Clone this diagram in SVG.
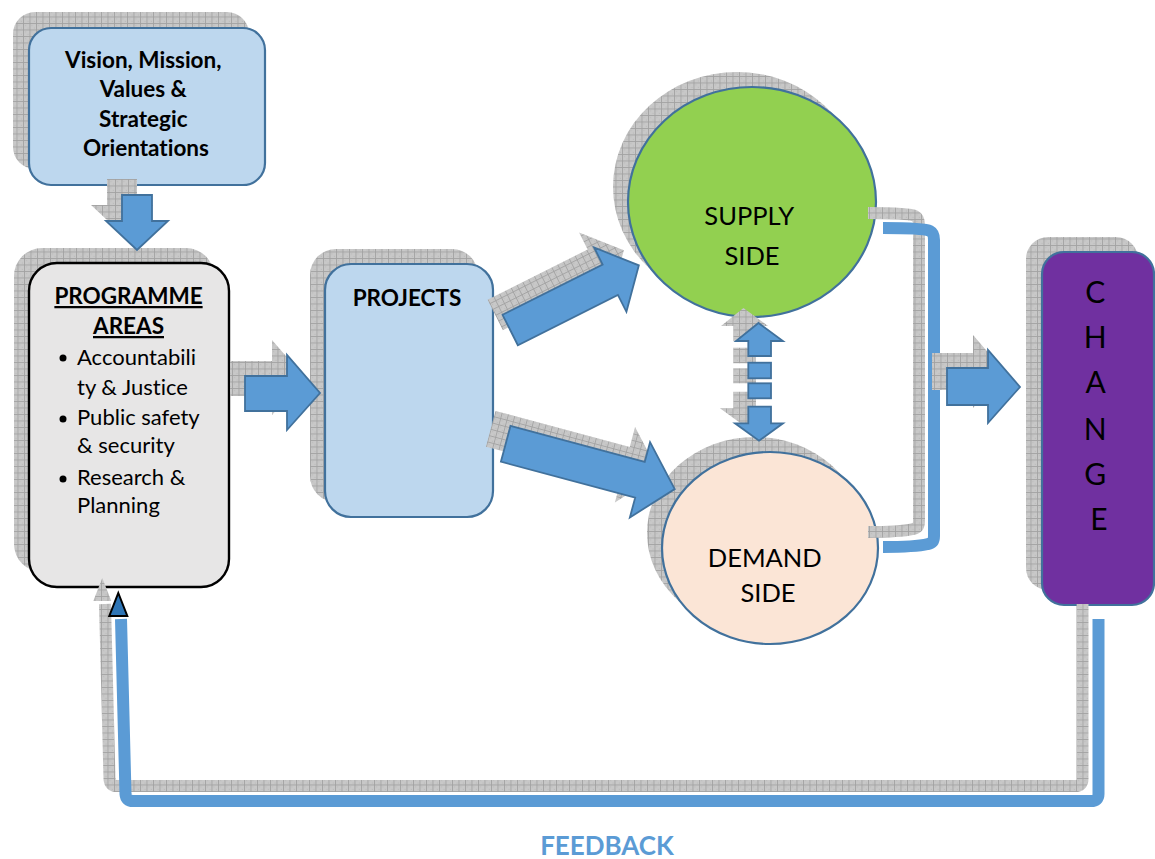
<svg xmlns="http://www.w3.org/2000/svg" xmlns:xlink="http://www.w3.org/1999/xlink" width="1155" height="859" viewBox="0 0 1155 859">
  <style>
    .shd { fill: url(#hatch); stroke: none; }
    .shd-line { fill: none; stroke: url(#hatch); }
    .box-blue { fill: #bdd7ee; stroke: #41719c; stroke-width: 2.2; }
    .box-grey { fill: #e7e6e6; stroke: #000; stroke-width: 2.4; }
    .ell-supply { fill: #92d050; stroke: #41719c; stroke-width: 2.2; }
    .ell-demand { fill: #fbe5d6; stroke: #41719c; stroke-width: 2.2; }
    .box-change { fill: #7030a0; stroke: #41719c; stroke-width: 2.2; }
    .arrow { fill: #5b9bd5; stroke: #41719c; stroke-width: 1.8; stroke-linejoin: miter; }
    .line { fill: none; stroke: #5b9bd5; stroke-linejoin: round; }
    .txt { font-family: Lato, "Liberation Sans", sans-serif; fill: #000; font-variant-ligatures: none; }
    .bold { font-weight: bold; }
  </style>
  <defs>
    <pattern id="hatch" width="6.5" height="6.5" patternUnits="userSpaceOnUse">
      <rect width="6.5" height="6.5" fill="#c8c8c8"/>
      <rect x="2" y="2" width="1" height="1" fill="#b8b8b8"/>
      <rect x="4.5" y="4.5" width="1" height="1" fill="#b8b8b8"/>
      <path d="M0,0.5H6.5M0.5,0V6.5" stroke="#a2a2a2" stroke-width="0.9"/>
    </pattern>

    <!-- node outlines -->
    <rect id="g-vision" x="29" y="28" width="236" height="157" rx="22"/>
    <rect id="g-prog" x="29" y="263" width="200" height="324" rx="28"/>
    <rect id="g-proj" x="325" y="264" width="168" height="253" rx="26"/>
    <ellipse id="g-supply" cx="752" cy="202" rx="124" ry="115"/>
    <ellipse id="g-demand" cx="770" cy="548" rx="108" ry="96"/>
    <rect id="g-change" x="1042" y="252" width="112" height="353" rx="22"/>

    <!-- block arrows -->
    <path id="g-down" d="M122,195 H152 V221 H168 L137,250 L106,221 H122 Z"/>
    <path id="g-right1" d="M245,376 H287 V355 L320,393 L287,430 V411 H245 Z"/>
    <path id="g-right2" d="M947,368 H988 V350 L1020,387 L988,423 V405 H947 Z"/>
    <path id="g-diag1" transform="translate(510.2,330) rotate(-26.7)" d="M0,-17 H112 V-36 L144,0 L112,36 V17 H0 Z"/>
    <path id="g-diag2" transform="translate(505.7,443.8) rotate(15)" d="M0,-18.5 H139 V-39 L175,0 L139,39 V18.5 H0 Z"/>
    <g id="g-double">
      <path d="M758.5,323 L783,341 H771 V356 H748.3 V341 H736 Z"/>
      <rect x="748.3" y="362.7" width="22.7" height="15.6"/>
      <rect x="748.3" y="383.3" width="22.7" height="15"/>
      <path d="M748.3,406.7 H771 V423.3 H783 L759,440.7 L735,423.3 H748.3 Z"/>
    </g>

    <!-- line connectors -->
    <path id="g-bracket" d="M883,228 Q924,228 930,231 Q934,233 934,240 V536 Q934,543 928,544 Q915,547 883,547"/>
    <path id="g-feedback" d="M1098.5,619 V794 Q1098.5,801 1091,801 H133 Q126,801 125.5,794 L121,619"/>
    <path id="g-fb-head" d="M118.3,593 L127.3,616 L109.3,616 Z"/>
  </defs>

  <!-- Nodes -->
  <g id="vision">
    <use xlink:href="#g-vision" class="shd" transform="translate(-16,-16)"/>
    <use xlink:href="#g-vision" class="box-blue"/>
    <text class="txt bold" font-size="22.5" text-anchor="middle">
      <tspan x="146" y="68">Vision, Mission,</tspan>
      <tspan x="146" y="97">Values &amp;</tspan>
      <tspan x="146" y="127">Strategic</tspan>
      <tspan x="146" y="156">Orientations</tspan>
    </text>
  </g>

  <g id="programme-areas">
    <use xlink:href="#g-prog" class="shd" transform="translate(-15,-15)"/>
    <use xlink:href="#g-prog" class="box-grey"/>
    <text class="txt bold" font-size="22.5" text-anchor="middle" text-decoration="underline" x="128.5" y="304">PROGRAMME</text>
    <text class="txt bold" font-size="22.5" text-anchor="middle" text-decoration="underline" x="128.5" y="334">AREAS</text>
    <circle cx="63" cy="358" r="3.5"/>
    <circle cx="63" cy="419" r="3.5"/>
    <circle cx="63" cy="479" r="3.5"/>
    <text class="txt" font-size="22">
      <tspan x="77" y="365">Accountabili</tspan>
      <tspan x="77" y="395">ty &amp; Justice</tspan>
      <tspan x="77" y="425">Public safety</tspan>
      <tspan x="77" y="453">&amp; security</tspan>
      <tspan x="77" y="485">Research &amp;</tspan>
      <tspan x="77" y="513">Planning</tspan>
    </text>
  </g>

  <g id="projects">
    <use xlink:href="#g-proj" class="shd" transform="translate(-15,-15)"/>
    <use xlink:href="#g-proj" class="box-blue"/>
    <text class="txt bold" font-size="22.5" text-anchor="middle" x="407" y="306">PROJECTS</text>
  </g>

  <g id="supply-side">
    <use xlink:href="#g-supply" class="shd" transform="translate(-15,-15)"/>
    <use xlink:href="#g-supply" class="ell-supply"/>
    <text class="txt" font-size="25.5" text-anchor="middle">
      <tspan x="752" y="225">SUPPLY</tspan>
      <tspan x="752" y="265">SIDE</tspan>
    </text>
  </g>

  <g id="demand-side">
    <use xlink:href="#g-demand" class="shd" transform="translate(-15,-15)"/>
    <use xlink:href="#g-demand" class="ell-demand"/>
    <text class="txt" font-size="25.5" text-anchor="middle">
      <tspan x="768" y="567">DEMAND</tspan>
      <tspan x="768" y="602">SIDE</tspan>
    </text>
  </g>

  <g id="change">
    <use xlink:href="#g-change" class="shd" transform="translate(-16,-15)"/>
    <use xlink:href="#g-change" class="box-change"/>
    <text class="txt" font-size="30" text-anchor="middle">
      <tspan x="1099" y="303">C</tspan>
      <tspan x="1099" y="348">H</tspan>
      <tspan x="1099" y="393">A</tspan>
      <tspan x="1099" y="440">N</tspan>
      <tspan x="1099" y="485">G</tspan>
      <tspan x="1099" y="530">E</tspan>
    </text>
  </g>

  <!-- Connectors -->
  <g id="connectors">
    <g id="vision-to-programme">
      <use xlink:href="#g-down" class="shd" transform="translate(-15,-16)"/>
      <use xlink:href="#g-down" class="arrow"/>
    </g>
    <g id="programme-to-projects">
      <use xlink:href="#g-right1" class="shd" transform="translate(-15,-15)"/>
      <use xlink:href="#g-right1" class="arrow"/>
    </g>
    <g id="projects-to-supply">
      <use xlink:href="#g-diag1" class="shd" transform="translate(-15,-15)"/>
      <use xlink:href="#g-diag1" class="arrow"/>
    </g>
    <g id="projects-to-demand">
      <use xlink:href="#g-diag2" class="shd" transform="translate(-15,-15)"/>
      <use xlink:href="#g-diag2" class="arrow"/>
    </g>
    <g id="supply-demand">
      <use xlink:href="#g-double" class="shd" transform="translate(-15,-15)"/>
      <use xlink:href="#g-double" class="arrow"/>
    </g>
    <g id="sides-bracket">
      <use xlink:href="#g-bracket" class="shd-line" stroke-width="12" transform="translate(-15,-15)"/>
      <use xlink:href="#g-bracket" class="line" stroke-width="12"/>
    </g>
    <g id="bracket-to-change">
      <use xlink:href="#g-right2" class="shd" transform="translate(-15,-15)"/>
      <use xlink:href="#g-right2" class="arrow"/>
    </g>
    <g id="feedback">
      <use xlink:href="#g-feedback" class="shd-line" stroke-width="12" transform="translate(-16,-15)"/>
      <use xlink:href="#g-fb-head" class="shd" transform="translate(-16,-15)"/>
      <use xlink:href="#g-feedback" class="line" stroke-width="12"/>
      <use xlink:href="#g-fb-head" fill="#2e75b6" stroke="#000" stroke-width="2"/>
      <text class="txt bold" font-size="26" text-anchor="middle" x="607" y="855" style="fill:#5b9bd5">FEEDBACK</text>
    </g>
  </g>
</svg>
